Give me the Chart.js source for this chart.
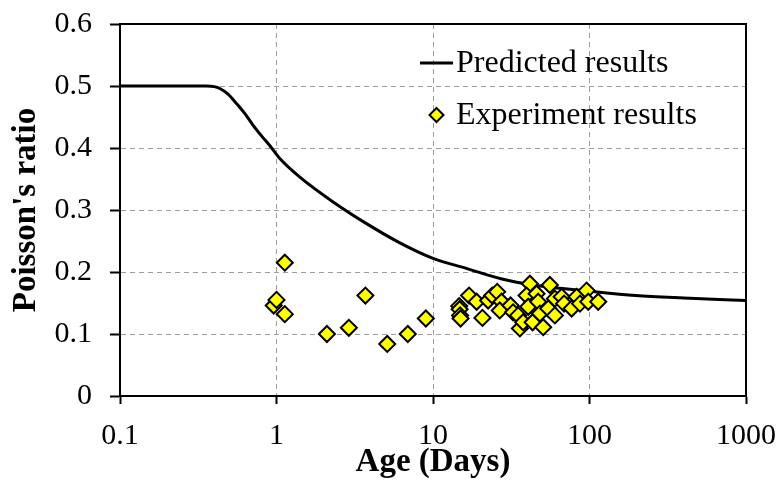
<!DOCTYPE html>
<html>
<head>
<meta charset="utf-8">
<script src="https://cdn.jsdelivr.net/npm/chart.js@4"></script>
<style>
  html, body { margin: 0; padding: 0; background: #fff; }
  #wrap { width: 778px; height: 493px; }
</style>
</head>
<body>
<div id="wrap"><canvas id="chart" width="778" height="493"></canvas></div>
<script>
// ================= DATA =================
const xTicks = [0.1, 1, 10, 100, 1000];

// predicted curve (age in days, Poisson's ratio)
const curveAge = [0.1, 0.2, 0.3, 0.356, 0.40, 0.434, 0.49, 0.554, 0.63, 0.707, 0.8, 0.905, 1.05, 1.41, 2.3, 3.76, 6.14, 10, 16.5, 27.2, 44.6, 100, 197, 400, 1000];
const curveNu  = [0.5, 0.5, 0.5, 0.5, 0.499, 0.496, 0.487, 0.472, 0.455, 0.437, 0.42, 0.404, 0.383, 0.353, 0.313, 0.278, 0.247, 0.222, 0.2055, 0.189, 0.1786, 0.169, 0.162, 0.158, 0.154];

// experiment points
const expAge = [0.96, 1.0, 1.13, 1.13, 2.1, 2.9, 3.7, 5.1, 6.9, 9.0,
  14.7, 14.8, 14.9, 15.0, 17.0, 19.0, 20.7, 22.5, 23.9, 25.7, 27.4, 26.7, 31.3, 32.5, 35, 35.9, 37.7,
  41.6, 39.6, 40.6, 43.3, 45.9, 47, 48.2, 50.6, 54.5, 55.8, 60.1, 60.1, 66.4, 68.8, 76.9, 82.8, 86.9, 95.8, 98.2, 113.7];
const expNu = [0.146, 0.155, 0.215, 0.132, 0.10, 0.11, 0.162, 0.084, 0.10, 0.125,
  0.145, 0.14, 0.13, 0.125, 0.162, 0.152, 0.126, 0.154, 0.162, 0.168, 0.152, 0.138, 0.146, 0.135, 0.13, 0.109, 0.119,
  0.181, 0.162, 0.144, 0.119, 0.165, 0.152, 0.133, 0.111, 0.141, 0.179, 0.13, 0.157, 0.16, 0.149, 0.141, 0.16, 0.149, 0.17, 0.152, 0.152];

const FONT = '"Liberation Serif", "Times New Roman", serif';

// ================= PLUGINS =================
// black frame round the plot area
const frame = {
    id: 'frame',
    afterDraw(chart) {
        const { ctx, chartArea: a } = chart;
        ctx.save();
        ctx.strokeStyle = '#000';
        ctx.lineWidth = 2;
        ctx.strokeRect(a.left, a.top, a.right - a.left, a.bottom - a.top);
        ctx.restore();
    }
};

// legend inside the plot, like the excel one
const legendBox = {
    id: 'legendBox',
    afterDraw(chart) {
        const ctx = chart.ctx;
        ctx.save();
        ctx.font = '32px ' + FONT;
        ctx.fillStyle = '#000';
        ctx.textBaseline = 'middle';
        // line entry
        ctx.strokeStyle = '#000';
        ctx.lineWidth = 3;
        ctx.beginPath();
        ctx.moveTo(420, 63);
        ctx.lineTo(453, 63);
        ctx.stroke();
        ctx.fillText('Predicted results', 456, 64);
        // marker entry
        const cx = 436.5, cy = 115, r = 7;
        ctx.beginPath();
        ctx.moveTo(cx, cy - r);
        ctx.lineTo(cx + r, cy);
        ctx.lineTo(cx, cy + r);
        ctx.lineTo(cx - r, cy);
        ctx.closePath();
        ctx.fillStyle = '#ffff00';
        ctx.fill();
        ctx.lineWidth = 2;
        ctx.strokeStyle = '#000';
        ctx.stroke();
        ctx.fillStyle = '#000';
        ctx.fillText('Experiment results', 456, 116);
        ctx.restore();
    }
};

// no label overhang padding, the plot box is set by layout.padding
function noPad(s) {
    s.paddingTop = 0;
    s.paddingBottom = 0;
    s.paddingLeft = 0;
    s.paddingRight = 0;
}

const gridOpts = len => ({
    color: '#9e9e9e',
    borderDash: [5, 4],
    tickColor: '#000',
    tickBorderDash: [],
    tickWidth: 2,
    tickLength: len
});

// ================= CHART =================
const ctx = document.getElementById('chart').getContext('2d');

new Chart(ctx, {
    type: 'scatter',
    data: {
        datasets: [{
            label: 'Experiment results',
            data: expAge.map((a, i) => ({ x: a, y: expNu[i] })),
            pointStyle: 'rectRot',
            pointRadius: 8,
            pointBackgroundColor: '#ffff00',
            pointBorderColor: '#000',
            pointBorderWidth: 2,
            order: 1
        }, {
            type: 'line',
            label: 'Predicted results',
            data: curveAge.map((a, i) => ({ x: a, y: curveNu[i] })),
            borderColor: '#000',
            borderWidth: 3,
            pointRadius: 0,
            cubicInterpolationMode: 'monotone',
            fill: false,
            order: 2
        }]
    },
    options: {
        responsive: false,
        animation: false,
        layout: { padding: { top: 24, right: 32, bottom: 0, left: 0 } },
        plugins: {
            legend: { display: false },
            tooltip: { enabled: false }
        },
        scales: {
            x: {
                type: 'logarithmic',
                min: 0.1,
                max: 1000,
                afterBuildTicks: s => { s.ticks = xTicks.map(v => ({ value: v })); },
                afterFit: s => { s.height = 97; noPad(s); },
                ticks: {
                    color: '#000',
                    font: { family: FONT, size: 30 },
                    padding: 14,
                    maxRotation: 0,
                    callback: v => String(v)
                },
                grid: gridOpts(8),
                border: { display: true, color: '#000', width: 2, dash: [5, 4] },
                title: {
                    display: true,
                    text: 'Age (Days)',
                    color: '#000',
                    font: { family: FONT, size: 33, weight: 'bold' },
                    padding: { top: 0, bottom: 11 }
                }
            },
            y: {
                min: 0,
                max: 0.6,
                afterFit: s => { s.width = 120; noPad(s); },
                ticks: {
                    stepSize: 0.1,
                    color: '#000',
                    font: { family: FONT, size: 30 },
                    padding: 18
                },
                grid: gridOpts(10),
                border: { display: true, color: '#000', width: 2, dash: [5, 4] },
                title: {
                    display: true,
                    text: "Poisson's ratio",
                    color: '#000',
                    font: { family: FONT, size: 33, weight: 'bold' },
                    padding: { top: 7, bottom: 0 }
                }
            }
        }
    },
    plugins: [frame, legendBox]
});
</script>
</body>
</html>
